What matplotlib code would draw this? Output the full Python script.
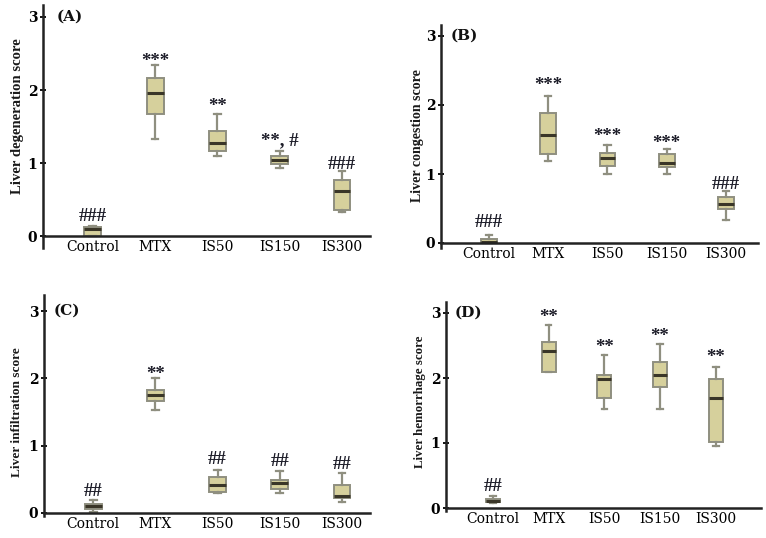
import numpy as np
import matplotlib.pyplot as plt
from matplotlib.transforms import offset_copy

plt.rcParams['font.family'] = ['DejaVu Serif', 'Liberation Serif']

groups = ['Control', 'MTX', 'IS50', 'IS150', 'IS300']

# box stats per group: [whisker low, q1, median, q3, whisker high]
degeneration = [[0.0, 0.0, 0.10, 0.12, 0.14],
                 [1.33, 1.67, 1.96, 2.16, 2.34],
                 [1.10, 1.16, 1.28, 1.44, 1.67],
                 [0.93, 0.99, 1.04, 1.10, 1.17],
                 [0.33, 0.36, 0.61, 0.77, 0.89]]
congestion = [[0.0, 0.0, 0.02, 0.06, 0.12],
              [1.19, 1.29, 1.56, 1.88, 2.13],
              [1.00, 1.12, 1.23, 1.31, 1.42],
              [1.00, 1.10, 1.16, 1.29, 1.36],
              [0.33, 0.49, 0.57, 0.67, 0.76]]
infiltration = [[0.02, 0.06, 0.10, 0.13, 0.19],
                [1.53, 1.66, 1.75, 1.83, 2.00],
                [0.29, 0.31, 0.42, 0.53, 0.64],
                [0.29, 0.35, 0.45, 0.49, 0.62],
                [0.16, 0.23, 0.26, 0.42, 0.59]]
hemorrhage = [[0.08, 0.09, 0.11, 0.14, 0.19],
              [2.09, 2.10, 2.41, 2.56, 2.82],
              [1.52, 1.69, 1.98, 2.04, 2.36],
              [1.52, 1.86, 2.04, 2.25, 2.53],
              [0.96, 1.02, 1.70, 1.98, 2.17]]

# significance marks and their heights
deg_marks = ['###', '***', '**', '**, #', '###']
deg_mark_y = [0.29, 2.46, 1.85, 1.32, 1.00]
con_marks = ['###', '***', '***', '***', '###']
con_mark_y = [0.32, 2.36, 1.62, 1.52, 0.87]
inf_marks = ['##', '**', '##', '##', '##']
inf_mark_y = [0.34, 2.14, 0.82, 0.79, 0.75]
hem_marks = ['##', '**', '**', '**', '**']
hem_mark_y = [0.36, 3.01, 2.55, 2.72, 2.40]

W, H = 766, 538
fig = plt.figure(figsize=(W / 100, H / 100), dpi=100)

# panel geometry in pixels: x-left, x-right, y of zero, pixels per unit, ylim, xlim,
# box width, y-label x / y centre / size, panel letter x (data)
panels = [
    ('(A)', 'Liver degeneration score', degeneration, deg_marks, deg_mark_y,
     43, 370, 236, 73, (-0.16, 3.16), (-0.80, 4.45), 0.27, (18, 116, 10.6), -0.58),
    ('(B)', 'Liver congestion score', congestion, con_marks, con_mark_y,
     441, 758, 243, 69, (-0.07, 3.16), (-0.81, 4.54), 0.27, (418, 136, 10.1), -0.64),
    ('(C)', 'Liver infiltration score', infiltration, inf_marks, inf_mark_y,
     44, 370, 513, 67.3, (-0.05, 3.24), (-0.79, 4.45), 0.27, (17, 412, 9.6), -0.64),
    ('(D)', 'Liver hemorrhage score', hemorrhage, hem_marks, hem_mark_y,
     446, 761, 508, 65, (-0.05, 3.17), (-0.84, 4.81), 0.25, (420, 402, 9.3), -0.68),
]

box_face = '#d6d09c'
box_edge = '#8f8f80'
ink = '#1c1c28'

for letter, ylabel, stats, marks, mark_y, x0, x1, y0, ppu, ylim, xlim, bw, lab, let_x in panels:
    bottom_px = y0 - ylim[0] * ppu
    top_px = y0 - ylim[1] * ppu
    ax = fig.add_axes([x0 / W, 1 - bottom_px / H, (x1 - x0) / W, (bottom_px - top_px) / H])

    bxp_stats = []
    for name, s in zip(groups, stats):
        bxp_stats.append(dict(label=name, whislo=s[0], q1=s[1], med=s[2], q3=s[3], whishi=s[4], fliers=[]))
    ax.bxp(bxp_stats, positions=range(len(groups)), widths=bw, patch_artist=True,
           showfliers=False, capwidths=bw * 0.4,
           boxprops=dict(facecolor=box_face, edgecolor=box_edge, linewidth=1.4),
           whiskerprops=dict(color=box_edge, linewidth=1.6),
           capprops=dict(color=box_edge, linewidth=1.6),
           medianprops=dict(color='#3a3628', linewidth=2.2))

    for i, (m, yy) in enumerate(zip(marks, mark_y)):
        # shift baseline so the glyphs are centred on the given height
        shift = -10 if set(m) == {'*'} else -6
        tr = offset_copy(ax.transData, fig=fig, y=shift, units='dots')
        ax.text(i, yy, m, ha='center', va='baseline', fontsize=13.5, fontweight='bold',
                color=ink, family='Liberation Serif', transform=tr)

    ax.set_xlim(*xlim)
    ax.set_ylim(*ylim)
    ax.set_yticks([0, 1, 2, 3])
    ax.set_xticks(range(len(groups)))
    ax.set_xticklabels(groups, fontsize=10, fontweight='bold')
    ax.tick_params(axis='x', length=0, pad=3)
    ax.tick_params(axis='y', length=4, width=1.3, pad=2, labelsize=10, direction='inout')
    for lbl in ax.get_yticklabels():
        lbl.set_fontweight('bold')

    ax.spines['top'].set_visible(False)
    ax.spines['right'].set_visible(False)
    ax.spines['bottom'].set_position(('data', 0))
    for sp in ('left', 'bottom'):
        ax.spines[sp].set_linewidth(1.8)
        ax.spines[sp].set_color('#222222')
    ax.patch.set_alpha(0)

    ax.text(let_x, 3.0, letter, fontsize=11, fontweight='bold', ha='left', va='center',
            color='#111111')

    fig.text(lab[0] / W, 1 - lab[1] / H, ylabel, rotation=90, ha='center', va='center',
             fontsize=lab[2], fontweight='bold', color='#1a1a1a', family='Liberation Serif')

fig.savefig('out.png', dpi=100)
